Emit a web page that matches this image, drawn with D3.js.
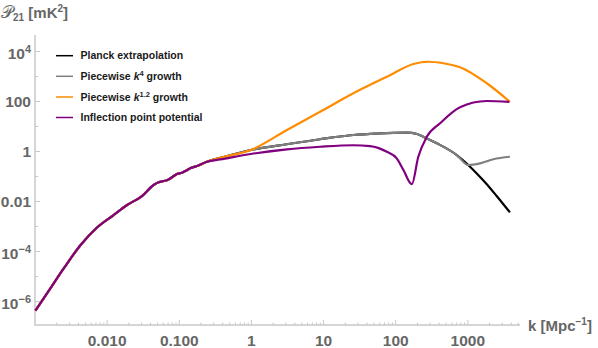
<!DOCTYPE html>
<html>
<head>
<meta charset="utf-8">
<script src="https://cdn.jsdelivr.net/npm/d3@7"></script>
<style>
  body { margin: 0; background: #fff; }
  text { font-family: "Liberation Sans", Arial, sans-serif; }
</style>
</head>
<body>
<div id="chart"></div>
<script>
// shared part of all four spectra (k in Mpc^-1, P21 in mK^2)
var kLow = [0.00103, 0.00166, 0.00254, 0.00433, 0.00736, 0.0125, 0.0192, 0.0309, 0.0448,
  0.0525, 0.0617, 0.0687, 0.0805, 0.0944, 0.111, 0.123, 0.144, 0.179, 0.246];
var pLow = [4.1e-7, 3.2e-6, 2.0e-5, 1.7e-4, 8.7e-4, 2.75e-3, 6.9e-3, 0.0158, 0.0437,
  0.0562, 0.0631, 0.0676, 0.0891, 0.120, 0.135, 0.158, 0.204, 0.251, 0.372];

// k > 0.3 : standard branch (Planck / k^4 / k^1.2 share it up to k = 1)
var kMid = [0.376, 1.0];
var pMid = [0.53, 1.1];
var pMidInflection = [0.46, 0.76];

// tails beyond k = 1
var kPiecewise4 = [3.16, 9.1, 26.3, 44.9, 61.7, 145, 200, 245, 377, 713, 1030, 1500, 2290, 3890];
var pPiecewise4 = [1.86, 2.95, 4.37, 4.8, 5.1, 5.4, 4.8, 3.7, 2.04, 0.69, 0.275, 0.32, 0.47, 0.59];

var kPlanck = [3.16, 9.1, 26.3, 44.9, 61.7, 145, 200, 245, 377, 713, 1030, 1350, 1860, 2550, 3890];
var pPlanck = [1.86, 2.95, 4.37, 4.8, 5.1, 5.4, 4.8, 3.7, 2.04, 0.69, 0.275, 0.126, 0.0468, 0.0158, 0.0035];

var kPiecewise12 = [3.16, 9.1, 26.3, 76.6, 179, 288, 465, 792, 1860, 3890];
var pPiecewise12 = [6.9, 37, 204, 933, 3020, 3720, 3240, 2240, 513, 93];

var kInflection = [3.16, 9.1, 26.3, 44.9, 76.6, 105, 130, 170, 209, 274, 419, 792, 1860, 3820];
var pInflection = [1.17, 1.48, 1.7, 1.58, 0.93, 0.51, 0.174, 0.047, 0.59, 3.7, 12.9, 56, 100, 93];

var xMajor = [0.01, 0.1, 1, 10, 100, 1000];
var xMajorLabels = ["0.010", "0.100", "1", "10", "100", "1000"];
var yMajor = [1e-6, 1e-4, 1e-2, 1, 100, 1e4];
var yMajorLabels = [["10", "\u22126"], ["10", "\u22124"], ["0.01", ""], ["1", ""], ["100", ""], ["10", "4"]];
var yMinor = [1e-5, 1e-3, 0.1, 10, 1000];

function series(kTail, pTail, pM) {
  var ks = kLow.concat(kMid, kTail);
  var ps = pLow.concat(pM, pTail);
  return ks.map(function (k, i) { return { k: k, p: ps[i] }; });
}

var curves = [
  { name: "Planck extrapolation", sup: null, color: "#000000", data: series(kPlanck, pPlanck, pMid) },
  { name: "Piecewise ", sup: "4", color: "#808080", data: series(kPiecewise4, pPiecewise4, pMid) },
  { name: "Piecewise ", sup: "1.2", color: "#ff8c00", data: series(kPiecewise12, pPiecewise12, pMid) },
  { name: "Inflection point potential", sup: null, color: "#800080", data: series(kInflection, pInflection, pMidInflection) }
];

var svgWidth = 598, svgHeight = 348;
var axisColor = "#c8c8c8";
var labelColor = "#666666";

var svg = d3.select("#chart").append("svg")
  .attr("width", svgWidth)
  .attr("height", svgHeight);

var xScale = d3.scaleLog().domain([1e-3, Math.pow(10, 3.73)]).range([34.5, 520]);
var yScale = d3.scaleLog().domain([Math.pow(10, -6.96), Math.pow(10, 4.64)]).range([325, 35]);

// minor ticks on x: 2..9 of every decade
var xMinor = [];
[0.001, 0.01, 0.1, 1, 10, 100, 1000].forEach(function (d) {
  for (var m = 2; m <= 9; m++) {
    if (d * m <= xScale.domain()[1]) xMinor.push(d * m);
  }
});

// x axis
var xAxisG = svg.append("g").attr("transform", "translate(0,325)");
xAxisG.call(d3.axisBottom(xScale).tickValues(xMinor).tickSize(-2.5).tickFormat(""));
xAxisG.call(function (g) {
  g.append("g").call(d3.axisBottom(xScale).tickValues(xMajor).tickSize(-5)
    .tickFormat(function (d, i) { return xMajorLabels[i]; }));
});
xAxisG.selectAll(".domain").attr("stroke", axisColor).attr("d", "M" + xScale.range()[0] + ",0H" + xScale.range()[1]);
xAxisG.selectAll(".tick line").attr("stroke", axisColor);
xAxisG.selectAll(".tick text")
  .attr("y", 10).attr("dy", "0.71em")
  .attr("fill", labelColor).attr("font-weight", "bold").attr("font-size", "15.5px")
  .attr("font-family", "Liberation Sans, Arial, sans-serif");

// y axis
var yAxisG = svg.append("g").attr("transform", "translate(35,0)");
yAxisG.call(d3.axisLeft(yScale).tickValues(yMinor).tickSize(-3).tickFormat(""));
yAxisG.append("g").call(d3.axisLeft(yScale).tickValues(yMajor).tickSize(-5).tickFormat(""));
yAxisG.selectAll(".domain").attr("stroke", axisColor).attr("d", "M0," + yScale.range()[0] + "V" + yScale.range()[1]);
yAxisG.selectAll(".tick line").attr("stroke", axisColor);

yMajor.forEach(function (v, i) {
  var lbl = yMajorLabels[i];
  var t = svg.append("text")
    .attr("x", 31)
    .attr("y", yScale(v))
    .attr("dy", lbl[1] ? "0.52em" : "0.36em")
    .attr("text-anchor", "end")
    .attr("fill", labelColor)
    .attr("font-weight", "bold")
    .attr("font-size", "15.5px");
  t.append("tspan").text(lbl[0]);
  if (lbl[1]) {
    t.append("tspan").attr("dy", "-0.55em").attr("font-size", "11px").text(lbl[1]);
  }
});

// axis titles
var yTitle = svg.append("text").attr("x", 1).attr("y", 18)
  .attr("fill", labelColor).attr("font-size", "15px");
yTitle.append("tspan").attr("font-family", "DejaVu Serif, serif").attr("font-size", "17px").text("\u{1D4AB}");
yTitle.append("tspan").attr("dy", "3").attr("font-size", "10px").attr("font-weight", "bold").text("21");
yTitle.append("tspan").attr("dy", "-3").attr("font-weight", "bold").text(" [mK");
yTitle.append("tspan").attr("dy", "-6").attr("font-size", "10px").attr("font-weight", "bold").text("2");
yTitle.append("tspan").attr("dy", "6").attr("font-weight", "bold").text("]");

var xTitle = svg.append("text").attr("x", 528).attr("y", 331)
  .attr("fill", labelColor).attr("font-size", "15px").attr("font-weight", "bold");
xTitle.append("tspan").text("k [Mpc");
xTitle.append("tspan").attr("dy", "-6").attr("font-size", "10px").text("\u22121");
xTitle.append("tspan").attr("dy", "6").text("]");

// curves
var line = d3.line()
  .x(function (d) { return xScale(d.k); })
  .y(function (d) { return yScale(d.p); })
  .curve(d3.curveMonotoneX);

svg.append("g").selectAll("path")
  .data(curves)
  .enter()
  .append("path")
  .attr("d", function (d) { return line(d.data); })
  .attr("fill", "none")
  .attr("stroke", function (d) { return d.color; })
  .attr("stroke-width", 2.2)
  .attr("stroke-linejoin", "round");

// legend
var legendY = [55.7, 76.3, 97, 117.5];
var legend = svg.append("g");
curves.forEach(function (c, i) {
  legend.append("line")
    .attr("x1", 56).attr("x2", 73)
    .attr("y1", legendY[i]).attr("y2", legendY[i])
    .attr("stroke", c.color).attr("stroke-width", 1.5);
  var t = legend.append("text")
    .attr("x", 80.5).attr("y", legendY[i]).attr("dy", "0.36em")
    .attr("font-size", "10.5px").attr("font-weight", "bold").attr("fill", "#1a1a1a");
  t.append("tspan").text(c.name);
  if (c.sup) {
    t.append("tspan").attr("font-style", "italic").text("k");
    t.append("tspan").attr("dy", "-4").attr("font-size", "7.5px").text(c.sup);
    t.append("tspan").attr("dy", "4").text(" growth");
  }
});
</script>
</body>
</html>
